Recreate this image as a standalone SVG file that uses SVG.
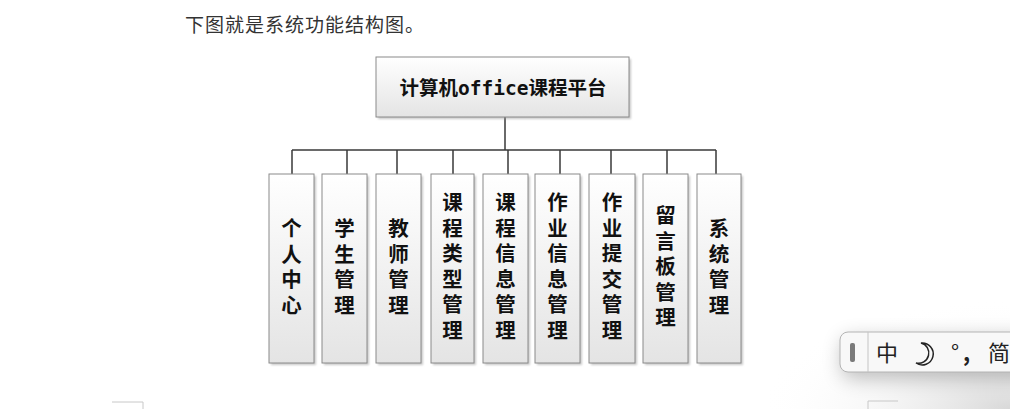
<svg xmlns="http://www.w3.org/2000/svg" width="1010" height="409" viewBox="0 0 1010 409">
<defs>
<linearGradient id="boxg" x1="0" y1="0" x2="0" y2="1">
<stop offset="0" stop-color="#ffffff"/>
<stop offset="1" stop-color="#e4e4e4"/>
</linearGradient>
<filter id="sh" x="-20%" y="-20%" width="140%" height="140%">
<feGaussianBlur stdDeviation="1.2"/>
</filter>
<filter id="imesh" x="-30%" y="-80%" width="160%" height="260%">
<feGaussianBlur stdDeviation="10"/>
</filter>
<radialGradient id="bgsh" cx="1" cy="1" r="1">
<stop offset="0" stop-color="#d8d8d8"/>
<stop offset="1" stop-color="#ffffff" stop-opacity="0"/>
</radialGradient>
</defs>
<style>
.box{fill:url(#boxg);stroke:#8a8a8a;stroke-width:1}
.shadow{fill:#9a9a9a;opacity:0.55;filter:url(#sh)}
.lbl{font-family:"Noto Sans CJK SC","Noto Sans",sans-serif;font-weight:bold;font-size:20.5px;fill:#111;text-anchor:middle}
.title{font-family:"Noto Sans CJK SC","Noto Sans",sans-serif;font-weight:bold;font-size:19.5px;fill:#111;text-anchor:middle}
.mono{font-family:"DejaVu Sans Mono","Liberation Mono",monospace}
.conn{stroke:#3a3a3a;stroke-width:1.5;fill:none}
.mark{stroke:#c8c8c8;stroke-width:1;fill:none}
.ime{font-family:"Noto Sans CJK SC","Noto Sans",sans-serif;font-size:22px;fill:#222}
</style>
<rect width="1010" height="409" fill="#ffffff"/>
<rect x="760" y="300" width="250" height="109" fill="url(#bgsh)"/>
<text x="185" y="32" font-family="'Noto Sans CJK SC','Noto Sans',sans-serif" font-size="19" letter-spacing="1" fill="#333">下图就是系统功能结构图。</text>

<g id="connectors">
<path class="conn" d="M505 117V150M292 150H716M292 150V174M347 150V174M397 150V174M453 150V174M508 150V174M560 150V174M611 150V174M667 150V174M716 150V174"/>
</g>

<g id="root">
<rect class="shadow" x="378" y="59" width="253" height="60"/>
<rect class="box" x="376" y="57" width="253" height="60"/>
<text class="title" x="503" y="95">计算机<tspan class="mono">office</tspan>课程平台</text>
</g>

<g id="n1">
<rect class="shadow" x="271" y="176" width="45" height="189"/>
<rect class="box" x="269" y="174" width="45" height="189"/>
<text class="lbl"><tspan x="291.5" y="236">个</tspan><tspan x="291.5" dy="25.5">人</tspan><tspan x="291.5" dy="25.5">中</tspan><tspan x="291.5" dy="25.5">心</tspan></text>
</g>
<g id="n2">
<rect class="shadow" x="324" y="176" width="45" height="189"/>
<rect class="box" x="322" y="174" width="45" height="189"/>
<text class="lbl"><tspan x="344.5" y="236">学</tspan><tspan x="344.5" dy="25.5">生</tspan><tspan x="344.5" dy="25.5">管</tspan><tspan x="344.5" dy="25.5">理</tspan></text>
</g>
<g id="n3">
<rect class="shadow" x="378" y="176" width="45" height="189"/>
<rect class="box" x="376" y="174" width="45" height="189"/>
<text class="lbl"><tspan x="398.5" y="236">教</tspan><tspan x="398.5" dy="25.5">师</tspan><tspan x="398.5" dy="25.5">管</tspan><tspan x="398.5" dy="25.5">理</tspan></text>
</g>
<g id="n4">
<rect class="shadow" x="433" y="176" width="43" height="189"/>
<rect class="box" x="431" y="174" width="43" height="189"/>
<text class="lbl"><tspan x="452.5" y="210">课</tspan><tspan x="452.5" dy="25.5">程</tspan><tspan x="452.5" dy="25.5">类</tspan><tspan x="452.5" dy="25.5">型</tspan><tspan x="452.5" dy="25.5">管</tspan><tspan x="452.5" dy="25.5">理</tspan></text>
</g>
<g id="n5">
<rect class="shadow" x="485" y="176" width="45" height="189"/>
<rect class="box" x="483" y="174" width="45" height="189"/>
<text class="lbl"><tspan x="505.5" y="210">课</tspan><tspan x="505.5" dy="25.5">程</tspan><tspan x="505.5" dy="25.5">信</tspan><tspan x="505.5" dy="25.5">息</tspan><tspan x="505.5" dy="25.5">管</tspan><tspan x="505.5" dy="25.5">理</tspan></text>
</g>
<g id="n6">
<rect class="shadow" x="537" y="176" width="45" height="189"/>
<rect class="box" x="535" y="174" width="45" height="189"/>
<text class="lbl"><tspan x="557.5" y="210">作</tspan><tspan x="557.5" dy="25.5">业</tspan><tspan x="557.5" dy="25.5">信</tspan><tspan x="557.5" dy="25.5">息</tspan><tspan x="557.5" dy="25.5">管</tspan><tspan x="557.5" dy="25.5">理</tspan></text>
</g>
<g id="n7">
<rect class="shadow" x="591" y="176" width="46" height="189"/>
<rect class="box" x="589" y="174" width="46" height="189"/>
<text class="lbl"><tspan x="612" y="210">作</tspan><tspan x="612" dy="25.5">业</tspan><tspan x="612" dy="25.5">提</tspan><tspan x="612" dy="25.5">交</tspan><tspan x="612" dy="25.5">管</tspan><tspan x="612" dy="25.5">理</tspan></text>
</g>
<g id="n8">
<rect class="shadow" x="645" y="176" width="45" height="189"/>
<rect class="box" x="643" y="174" width="45" height="189"/>
<text class="lbl"><tspan x="665.5" y="223">留</tspan><tspan x="665.5" dy="25.5">言</tspan><tspan x="665.5" dy="25.5">板</tspan><tspan x="665.5" dy="25.5">管</tspan><tspan x="665.5" dy="25.5">理</tspan></text>
</g>
<g id="n9">
<rect class="shadow" x="699" y="176" width="44" height="189"/>
<rect class="box" x="697" y="174" width="44" height="189"/>
<text class="lbl"><tspan x="719" y="236">系</tspan><tspan x="719" dy="25.5">统</tspan><tspan x="719" dy="25.5">管</tspan><tspan x="719" dy="25.5">理</tspan></text>
</g>

<path class="mark" d="M112 402H143V409"/>
<path class="mark" d="M868 409V401H898"/>

<g id="ime">
<rect x="842" y="338" width="200" height="40" rx="8" fill="#000" opacity="0.25" filter="url(#imesh)"/>
<rect x="840" y="332" width="200" height="40" rx="8" fill="#f8f8f8" stroke="#b4b4b4" stroke-width="1"/>
<line x1="868" y1="332" x2="868" y2="372" stroke="#c4c4c4" stroke-width="1"/>
<rect x="850" y="343" width="5" height="19" rx="2" fill="#7a7a7a"/>
<text class="ime" x="887" y="361" text-anchor="middle">中</text>
<path d="M921 343 A11 11 0 1 1 916 363 A8.5 8.5 0 0 0 921 343 Z" fill="none" stroke="#222" stroke-width="1.5"/>
<text class="ime" x="951" y="361">°</text>
<text class="ime" x="963" y="361" font-weight="bold">,</text>
<text class="ime" x="988" y="361">简</text>
</g>
</svg>
